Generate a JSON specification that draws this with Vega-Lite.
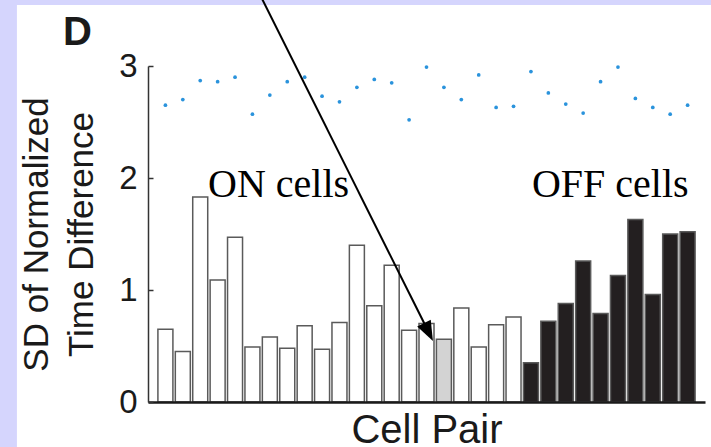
{
  "$schema": "https://vega.github.io/schema/vega-lite/v6.json",
  "autosize": {"type": "none"},
  "width": 557,
  "height": 336,
  "padding": {"left": 148, "top": 66, "right": 6, "bottom": 45},
  "background": "#d5d5fd",
  "config": {"view": {"stroke": null}, "font": "Liberation Sans"},
  "data": {
    "values": [
      {"pair": 1, "sd": 0.65, "dot": 2.65, "group": "ON"},
      {"pair": 2, "sd": 0.45, "dot": 2.70, "group": "ON"},
      {"pair": 3, "sd": 1.83, "dot": 2.87, "group": "ON"},
      {"pair": 4, "sd": 1.09, "dot": 2.86, "group": "ON"},
      {"pair": 5, "sd": 1.47, "dot": 2.90, "group": "ON"},
      {"pair": 6, "sd": 0.49, "dot": 2.57, "group": "ON"},
      {"pair": 7, "sd": 0.58, "dot": 2.74, "group": "ON"},
      {"pair": 8, "sd": 0.48, "dot": 2.86, "group": "ON"},
      {"pair": 9, "sd": 0.68, "dot": 2.90, "group": "ON"},
      {"pair": 10, "sd": 0.47, "dot": 2.73, "group": "ON"},
      {"pair": 11, "sd": 0.71, "dot": 2.68, "group": "ON"},
      {"pair": 12, "sd": 1.40, "dot": 2.81, "group": "ON"},
      {"pair": 13, "sd": 0.86, "dot": 2.88, "group": "ON"},
      {"pair": 14, "sd": 1.22, "dot": 2.85, "group": "ON"},
      {"pair": 15, "sd": 0.64, "dot": 2.52, "group": "ON"},
      {"pair": 16, "sd": 0.70, "dot": 2.99, "group": "ON"},
      {"pair": 17, "sd": 0.56, "dot": 2.81, "group": "marked"},
      {"pair": 18, "sd": 0.84, "dot": 2.70, "group": "ON"},
      {"pair": 19, "sd": 0.49, "dot": 2.92, "group": "ON"},
      {"pair": 20, "sd": 0.69, "dot": 2.63, "group": "ON"},
      {"pair": 21, "sd": 0.76, "dot": 2.64, "group": "ON"},
      {"pair": 22, "sd": 0.35, "dot": 2.95, "group": "OFF"},
      {"pair": 23, "sd": 0.72, "dot": 2.76, "group": "OFF"},
      {"pair": 24, "sd": 0.88, "dot": 2.66, "group": "OFF"},
      {"pair": 25, "sd": 1.26, "dot": 2.58, "group": "OFF"},
      {"pair": 26, "sd": 0.79, "dot": 2.86, "group": "OFF"},
      {"pair": 27, "sd": 1.13, "dot": 2.99, "group": "OFF"},
      {"pair": 28, "sd": 1.63, "dot": 2.71, "group": "OFF"},
      {"pair": 29, "sd": 0.96, "dot": 2.63, "group": "OFF"},
      {"pair": 30, "sd": 1.50, "dot": 2.57, "group": "OFF"},
      {"pair": 31, "sd": 1.52, "dot": 2.65, "group": "OFF"}
    ]
  },
  "layer": [
    {
      "data": {"values": [{}]},
      "mark": {"type": "rect", "fill": "white"},
      "encoding": {
        "x": {"datum": -7.53, "type": "quantitative", "scale": {"domain": [0, 32], "nice": false, "padding": 0},
          "axis": {"title": "Cell Pair", "zindex": 3, "grid": false, "labels": false, "ticks": false, "domainColor": "#1a1a1a", "domainWidth": 2.5, "titleFont": "Liberation Sans", "titleFontSize": 40, "titleFontWeight": "normal", "titleColor": "#1a1a1a", "titlePadding": 8}},
        "x2": {"datum": 33},
        "y": {"datum": -0.5, "type": "quantitative", "scale": {"domain": [0, 3], "nice": false, "padding": 0},
          "axis": {"title": ["SD of Normalized", "Time Difference"], "values": [0, 1, 2, 3], "format": "d", "zindex": 3, "grid": false, "tickSize": -5, "tickColor": "#333333", "tickWidth": 1.5, "domainColor": "#333333", "domainWidth": 1.5, "labelFont": "Liberation Sans", "labelFontSize": 33, "labelColor": "#1a1a1a", "labelPadding": 16, "titleFont": "Liberation Sans", "titleFontSize": 35, "titleFontWeight": "normal", "titleColor": "#1a1a1a", "titleLineHeight": 45, "titlePadding": 19}},
        "y2": {"datum": 3.545}
      }
    },
    {
      "mark": {"type": "bar", "width": 15, "stroke": "#5a5a5a", "strokeWidth": 1.5},
      "encoding": {
        "x": {"field": "pair", "type": "quantitative"},
        "y": {"field": "sd", "type": "quantitative"},
        "fill": {"field": "group", "type": "nominal", "scale": {"domain": ["ON", "marked", "OFF"], "range": ["#ffffff", "#d3d3d3", "#231f20"]}, "legend": null}
      }
    },
    {
      "mark": {"type": "point", "filled": true, "size": 14, "color": "#2a93dc", "opacity": 1},
      "encoding": {
        "x": {"field": "pair", "type": "quantitative"},
        "y": {"field": "dot", "type": "quantitative"}
      }
    },
    {
      "data": {"values": [{}]},
      "mark": {"type": "text", "text": "ON cells", "font": "Liberation Serif", "fontSize": 40, "align": "left", "baseline": "alphabetic", "color": "black"},
      "encoding": {
        "x": {"datum": 3.45, "type": "quantitative"},
        "y": {"datum": 1.83, "type": "quantitative"}
      }
    },
    {
      "data": {"values": [{}]},
      "mark": {"type": "text", "text": "OFF cells", "font": "Liberation Serif", "fontSize": 40, "align": "left", "baseline": "alphabetic", "color": "black"},
      "encoding": {
        "x": {"datum": 22.06, "type": "quantitative"},
        "y": {"datum": 1.83, "type": "quantitative"}
      }
    },
    {
      "data": {"values": [{}]},
      "mark": {"type": "text", "text": "D", "font": "Liberation Sans", "fontWeight": "bold", "fontSize": 40, "align": "left", "baseline": "alphabetic", "color": "#1a1a1a"},
      "encoding": {
        "x": {"datum": -4.88, "type": "quantitative"},
        "y": {"datum": 3.19, "type": "quantitative"}
      }
    },
    {
      "data": {"values": [{}]},
      "mark": {"type": "rule", "stroke": "black", "strokeWidth": 2},
      "encoding": {
        "x": {"datum": 6.55, "type": "quantitative"},
        "y": {"datum": 3.6, "type": "quantitative"},
        "x2": {"datum": 16.12},
        "y2": {"datum": 0.625}
      }
    },
    {
      "data": {"values": [{}]},
      "mark": {"type": "point", "shape": "M0,0L-0.38,-1L0.38,-1Z", "filled": true, "color": "black", "opacity": 1, "strokeWidth": 0, "size": 1600, "angle": 333.3},
      "encoding": {
        "x": {"datum": 16.37, "type": "quantitative"},
        "y": {"datum": 0.545, "type": "quantitative"}
      }
    }
  ]
}
